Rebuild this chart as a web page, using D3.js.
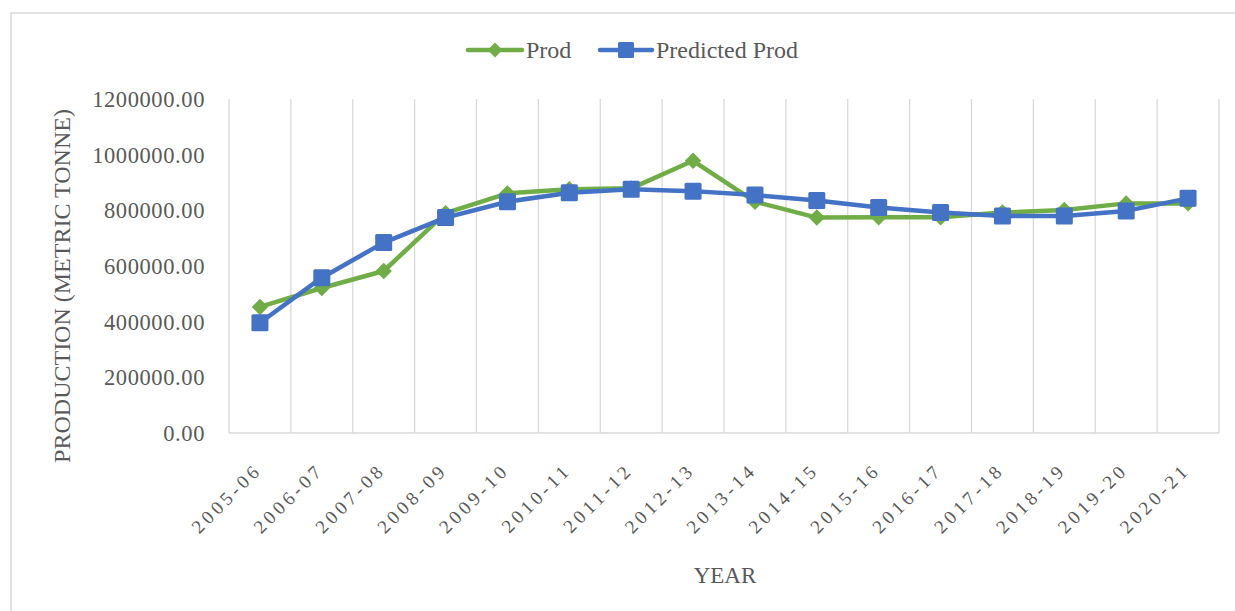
<!DOCTYPE html>
<html>
<head>
<meta charset="utf-8">
<script src="https://cdn.jsdelivr.net/npm/d3@7"></script>
<style>
  body { margin: 0; background: #fff; }
  text { font-family: "Liberation Serif", "Times New Roman", serif; fill: #595959; }
</style>
</head>
<body>
<div id="chart"></div>
<script>
// Données
const years = ["2005-06", "2006-07", "2007-08", "2008-09", "2009-10", "2010-11", "2011-12", "2012-13",
  "2013-14", "2014-15", "2015-16", "2016-17", "2017-18", "2018-19", "2019-20", "2020-21"];
const prod = [453000, 521000, 582000, 790000, 861000, 876000, 879000, 978000,
  831000, 774000, 775000, 775000, 792000, 801000, 825000, 825000];
const predicted = [396000, 558000, 684000, 774000, 831000, 863000, 876000, 869000,
  855000, 835000, 810000, 792000, 780000, 780000, 798000, 843000];
const yTicks = [0, 200000, 400000, 600000, 800000, 1000000, 1200000];

const W = 1235, H = 611;
const margin = { top: 99, right: 16, bottom: 178, left: 229 };
const width = W - margin.left - margin.right;
const height = H - margin.top - margin.bottom;

const green = "#70ad47", blue = "#4472c4", grid = "#d9d9d9";

const root = d3.select("#chart").append("svg")
  .attr("width", W).attr("height", H);

// Cadre du graphique
root.append("rect")
  .attr("x", 11).attr("y", 13)
  .attr("width", W + 20).attr("height", H + 20)
  .attr("fill", "none").attr("stroke", grid).attr("stroke-width", 1.5);

const svg = root.append("g").attr("transform", `translate(${margin.left},${margin.top})`);

const x = d3.scaleBand().domain(years).range([0, width]);
const y = d3.scaleLinear().domain([0, 1200000]).range([height, 0]);
const cx = d => x(d) + x.bandwidth() / 2;

// Grille verticale aux limites des catégories
const bounds = years.map(d => x(d)).concat([width]);
svg.selectAll("line.grid").data(bounds).join("line")
  .attr("class", "grid")
  .attr("x1", d => d).attr("x2", d => d)
  .attr("y1", 0).attr("y2", height)
  .attr("stroke", grid).attr("stroke-width", 1.3);

svg.append("line")
  .attr("x1", 0).attr("x2", width)
  .attr("y1", height).attr("y2", height)
  .attr("stroke", grid).attr("stroke-width", 1.5);

// Axe Y
svg.selectAll("text.ytick").data(yTicks).join("text")
  .attr("class", "ytick")
  .attr("x", -24).attr("y", d => y(d))
  .attr("dy", "0.35em")
  .attr("text-anchor", "end")
  .style("font-size", "22.5px")
  .style("letter-spacing", "0.6px")
  .text(d => d.toFixed(2));

// Axe X (étiquettes inclinées)
svg.selectAll("text.xtick").data(years).join("text")
  .attr("class", "xtick")
  .attr("text-anchor", "end")
  .attr("transform", d => `translate(${cx(d) + 3},${height + 38}) rotate(-45)`)
  .style("font-size", "19px")
  .style("letter-spacing", "3.8px")
  .text(d => d);

// Titres des axes
root.append("text")
  .attr("transform", `translate(70,${margin.top + height / 2 + 20}) rotate(-90)`)
  .attr("text-anchor", "middle")
  .style("font-size", "24px")
  .text("PRODUCTION (METRIC TONNE)");

root.append("text")
  .attr("x", 725).attr("y", 583)
  .attr("text-anchor", "middle")
  .style("font-size", "23px")
  .text("YEAR");

// Lignes
const line = d3.line().x((d, i) => cx(years[i])).y(d => y(d));

svg.append("path").datum(prod)
  .attr("d", line).attr("fill", "none")
  .attr("stroke", green).attr("stroke-width", 4.5).attr("stroke-linejoin", "round");

svg.append("path").datum(predicted)
  .attr("d", line).attr("fill", "none")
  .attr("stroke", blue).attr("stroke-width", 4.5).attr("stroke-linejoin", "round");

svg.selectAll("path.prod").data(prod).join("path")
  .attr("class", "prod")
  .attr("d", d3.symbol().type(d3.symbolSquare).size(135))
  .attr("transform", (d, i) => `translate(${cx(years[i])},${y(d)}) rotate(45)`)
  .attr("fill", green);

svg.selectAll("rect.pred").data(predicted).join("rect")
  .attr("class", "pred")
  .attr("x", (d, i) => cx(years[i]) - 8.5)
  .attr("y", d => y(d) - 8.5)
  .attr("width", 17).attr("height", 17).attr("rx", 1.5)
  .attr("fill", blue);

// Légende
const legend = root.append("g").attr("transform", "translate(0,50)");
legend.append("line").attr("x1", 468).attr("x2", 522).attr("y1", 0).attr("y2", 0)
  .attr("stroke", green).attr("stroke-width", 4.5).attr("stroke-linecap", "round");
legend.append("path").attr("d", d3.symbol().type(d3.symbolSquare).size(110))
  .attr("transform", "translate(495,0) rotate(45)").attr("fill", green);
legend.append("text").attr("x", 526).attr("y", 0).attr("dy", "0.35em")
  .style("font-size", "24px").text("Prod");

legend.append("line").attr("x1", 600).attr("x2", 652).attr("y1", 0).attr("y2", 0)
  .attr("stroke", blue).attr("stroke-width", 4.5).attr("stroke-linecap", "round");
legend.append("rect").attr("x", 618).attr("y", -8).attr("width", 16).attr("height", 16)
  .attr("rx", 1.5).attr("fill", blue);
legend.append("text").attr("x", 656).attr("y", 0).attr("dy", "0.35em")
  .style("font-size", "24px").text("Predicted Prod");
</script>
</body>
</html>
